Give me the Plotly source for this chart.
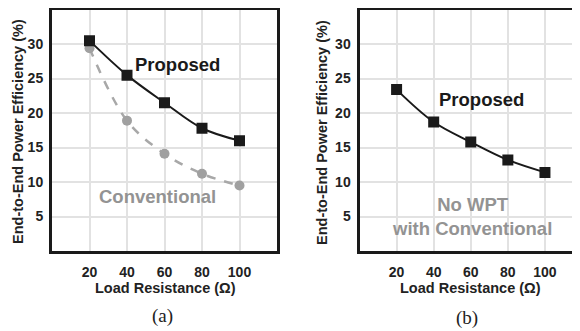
import plotly.graph_objects as go

# Data
load_res = [20, 40, 60, 80, 100]
a_proposed = [30.5, 25.5, 21.5, 17.8, 16.0]
a_conventional = [29.4, 18.9, 14.1, 11.2, 9.5]
b_proposed = [23.4, 18.7, 15.8, 13.2, 11.4]
x_ticks = [20, 40, 60, 80, 100]
y_ticks = [5, 10, 15, 20, 25, 30]

# page has an 8px body margin; figure sized to fill the rest of the window
OFF = 8
W, H = 580 - OFF, 331 - OFF
FONT = "Liberation Sans, Arial, sans-serif"
TXT = "#222222"
GRID = "#e2e2e2"
BORDER = "#1a1a1a"


def px(xp):
    return (xp - OFF) / W


def py(yp):
    return 1 - (yp - OFF) / H


fig = go.Figure()

fig.add_trace(go.Scatter(x=load_res, y=a_conventional, mode="lines+markers",
                         line=dict(color="#a8a8a8", width=2.5, dash="dash", shape="spline"),
                         marker=dict(symbol="circle", size=10, color="#a0a0a0"),
                         xaxis="x", yaxis="y", showlegend=False))
fig.add_trace(go.Scatter(x=load_res, y=a_proposed, mode="lines+markers",
                         line=dict(color="#1a1a1a", width=2, shape="spline"),
                         marker=dict(symbol="square", size=11, color="#1a1a1a"),
                         xaxis="x", yaxis="y", showlegend=False))
fig.add_trace(go.Scatter(x=load_res, y=b_proposed, mode="lines+markers",
                         line=dict(color="#1a1a1a", width=2, shape="spline"),
                         marker=dict(symbol="square", size=11, color="#1a1a1a"),
                         xaxis="x2", yaxis="y2", showlegend=False))

ydom = [py(251), 0.995]
tickfont = dict(family=FONT, size=14, color=TXT, weight="bold")

common_x = dict(tickvals=x_ticks, showgrid=True, gridcolor=GRID, gridwidth=1.5,
                showline=True, linecolor=BORDER, linewidth=3, mirror=True,
                ticks="", tickfont=tickfont, zeroline=False, ticklabelstandoff=6)
common_y = dict(range=[0, 35], tickvals=y_ticks, showgrid=True, gridcolor=GRID, gridwidth=1.5,
                showline=True, linecolor=BORDER, linewidth=3,
                ticks="", tickfont=tickfont, zeroline=False, ticklabelstandoff=3)

fig.update_layout(
    width=W, height=H, margin=dict(l=0, r=0, t=0, b=0),
    paper_bgcolor="white", plot_bgcolor="white",
    xaxis=dict(domain=[px(52), px(277)], range=[0, 120], anchor="y", **common_x),
    yaxis=dict(domain=ydom, anchor="x", mirror=True, **common_y),
    xaxis2=dict(domain=[px(359.5), 1.0], range=[0, 118.9], anchor="y2", **common_x),
    yaxis2=dict(domain=ydom, anchor="x2", mirror=False, **common_y),
)


def ann(text, x, y, size, color=TXT, family=FONT, bold=True, xref="paper", yref="paper", textangle=0):
    fig.add_annotation(text=text, x=x, y=y, xref=xref, yref=yref, showarrow=False,
                       textangle=textangle, xanchor="center", yanchor="middle",
                       font=dict(family=family, size=size, color=color,
                                 weight="bold" if bold else "normal"))


# Axis titles
ann("End-to-End Power Efficiency (%)", px(18), py(132), 14.5, textangle=-90)
ann("End-to-End Power Efficiency (%)", px(322), py(133), 14.5, textangle=-90)
ann("Load Resistance (Ω)", px(166), py(288), 14.5)
ann("Load Resistance (Ω)", px(470), py(288), 14.5)

# Captions
SERIF = "Liberation Serif, Times New Roman, serif"
ann("(a)", px(162), py(316), 19, family=SERIF, bold=False)
ann("(b)", px(467), py(318), 19, family=SERIF, bold=False)

# In-plot labels
ann("Proposed", 67, 27, 18.5, color="#1a1a1a", xref="x", yref="y")
ann("Conventional", 56.5, 7.9, 18.5, color="#939393", xref="x", yref="y")
ann("Proposed", 65.8, 21.9, 18.5, color="#1a1a1a", xref="x2", yref="y2")
ann("No WPT<br>with Conventional", 60.5, 5.0, 18.5, color="#939393", xref="x2", yref="y2")

fig.write_html("out.html")
